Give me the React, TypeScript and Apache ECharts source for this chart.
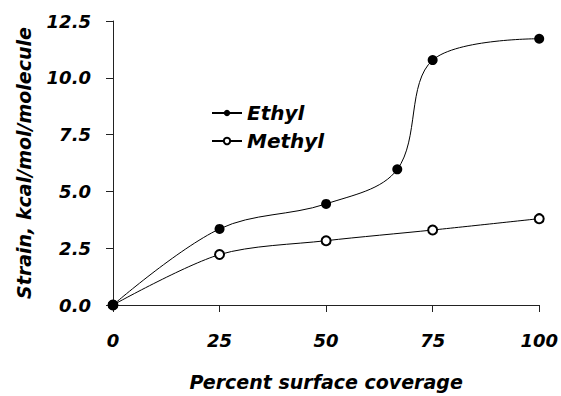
import React, { useEffect, useRef } from "react";
import * as echarts from "echarts";

const coverage = [0, 25, 50, 66.7, 75, 100];
const ethyl = [0, 3.35, 4.45, 5.97, 10.78, 11.72];
const methylCoverage = [0, 25, 50, 75, 100];
const methyl = [0, 2.22, 2.83, 3.3, 3.8];
const xTicks = [0, 25, 50, 75, 100];

const font = "'DejaVu Sans', Arial, sans-serif";
const txt = { fontFamily: font, fontWeight: "bold", fontStyle: "italic", color: "#000" };

export default function App() {
  const ref = useRef<HTMLDivElement>(null);
  useEffect(() => {
    const chart = echarts.init(ref.current!, null, { renderer: "svg" });
    chart.setOption({
      animation: false,
      backgroundColor: "#fff",
      grid: { left: 113, right: 20, top: 21, bottom: 89 },
      legend: {
        orient: "vertical",
        left: 206,
        top: 98,
        itemWidth: 30,
        itemHeight: 8,
        itemGap: 8,
        textStyle: { ...txt, fontSize: 20 },
        data: ["Ethyl", "Methyl"],
      },
      xAxis: {
        type: "value",
        min: 0,
        max: 100,
        interval: 25,
        name: "Percent surface coverage",
        nameLocation: "middle",
        nameGap: 67,
        nameTextStyle: { ...txt, fontSize: 19 },
        axisLine: { lineStyle: { color: "#222", width: 1 } },
        axisTick: { length: 7, lineStyle: { color: "#222" } },
        axisLabel: {
          ...txt, fontSize: 18, margin: 26,
          formatter: (v: number) => (xTicks.includes(v) ? String(v) : ""),
        },
        splitLine: { show: false },
      },
      yAxis: {
        type: "value",
        min: 0,
        max: 12.5,
        interval: 2.5,
        name: "Strain, kcal/mol/molecule",
        nameLocation: "middle",
        nameGap: 80,
        nameTextStyle: { ...txt, fontSize: 19 },
        axisLine: { show: true, lineStyle: { color: "#222", width: 1 } },
        axisTick: { show: true, length: 7, lineStyle: { color: "#222" } },
        axisLabel: {
          ...txt, fontSize: 18, margin: 22,
          formatter: (v: number) => v.toFixed(1),
        },
        splitLine: { show: false },
      },
      series: [
        {
          name: "Ethyl",
          type: "line",
          smooth: 0.35,
          data: coverage.map((x, i) => [x, ethyl[i]]),
          symbol: "circle",
          symbolSize: 10,
          itemStyle: { color: "#000" },
          lineStyle: { color: "#000", width: 1 },
          z: 3,
        },
        {
          name: "Methyl",
          type: "line",
          smooth: 0.3,
          data: methylCoverage.map((x, i) => [x, methyl[i]]),
          symbol: "emptyCircle",
          symbolSize: 9,
          itemStyle: { color: "#000", borderWidth: 1 },
          lineStyle: { color: "#000", width: 1 },
          z: 2,
        },
      ],
    });
    return () => chart.dispose();
  }, []);
  return <div ref={ref} style={{ width: 561, height: 396, position: "absolute", left: 0, top: 0 }} />;
}
